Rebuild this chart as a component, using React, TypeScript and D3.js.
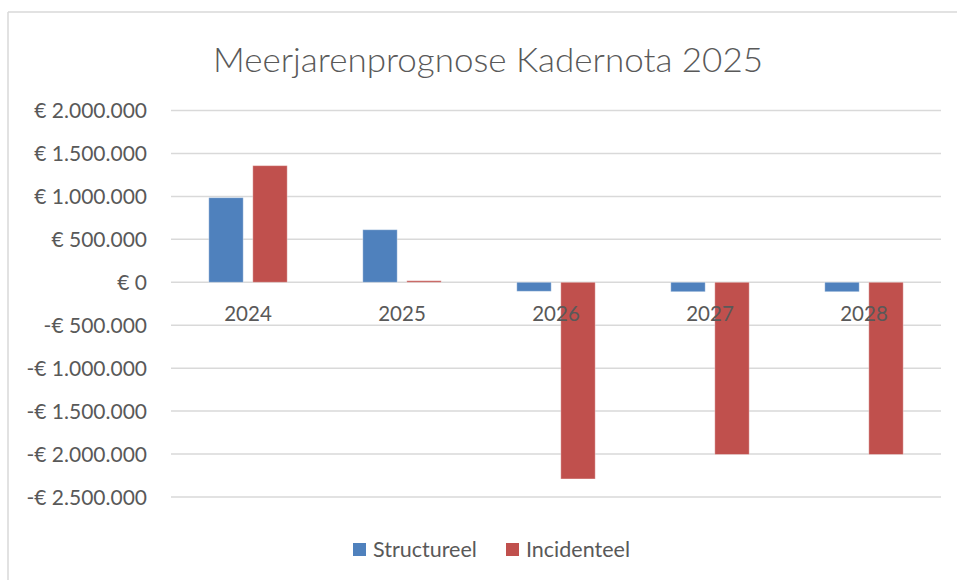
import React from "react";
import * as d3 from "d3";

const categories = ["2024", "2025", "2026", "2027", "2028"];
const seriesNames = ["Structureel", "Incidenteel"];
const structureel = [985000, 612000, -105000, -110000, -110000];
const incidenteel = [1358000, 18000, -2290000, -2005000, -2005000];
const yTicks = [2000000, 1500000, 1000000, 500000, 0, -500000, -1000000, -1500000, -2000000, -2500000];
const colors = ["#4F81BD", "#C0504D"];

const W = 957;
const H = 580;
const FONT = "Lato, 'Open Sans', sans-serif";
const TXT = "#595959";

function fmt(v: number) {
  const abs = Math.abs(v);
  const s = abs.toString().replace(/\B(?=(\d{3})+(?!\d))/g, ".");
  return (v < 0 ? "-€ " : "€ ") + s;
}

export default function App() {
  const y = d3.scaleLinear().domain([-2500000, 2000000]).range([497, 110.5]);
  const x0 = d3.scaleBand().domain(categories).range([171, 941]).padding(0);
  const x1 = d3
    .scaleBand()
    .domain(seriesNames)
    .range([0, x0.bandwidth()])
    .paddingInner(0.218)
    .paddingOuter(0.859);
  const data = [structureel, incidenteel];

  return (
    <div style={{ position: "absolute", left: 0, top: 0 }}>
      <svg width={W} height={H} style={{ display: "block", background: "#fff" }}>
        {/* chart border */}
        <line x1={8} y1={12} x2={W} y2={12} stroke="#D9D9D9" strokeWidth={1.5} />
        <line x1={8} y1={12} x2={8} y2={H} stroke="#D9D9D9" strokeWidth={1.5} />

        <text
          x={488}
          y={72}
          textAnchor="middle"
          fontFamily={FONT}
          fontSize={34}
          fontWeight={300}
          fill={TXT}
          textLength={550}
          lengthAdjust="spacingAndGlyphs"
        >
          Meerjarenprognose Kadernota 2025
        </text>

        {yTicks.map((t) => (
          <g key={t}>
            <line x1={171} x2={941} y1={y(t)} y2={y(t)} stroke="#D9D9D9" strokeWidth={1.5} />
            <text
              x={147}
              y={y(t)}
              dy="0.36em"
              textAnchor="end"
              fontFamily={FONT}
              fontSize={21}
              fill={TXT}
            >
              {fmt(t)}
            </text>
          </g>
        ))}

        {categories.map((c, i) => (
          <g key={c}>
            {data.map((vals, s) => {
              const v = vals[i];
              const top = y(Math.max(0, v));
              const h = Math.abs(y(v) - y(0));
              return (
                <rect
                  key={s}
                  x={(x0(c) as number) + (x1(seriesNames[s]) as number)}
                  y={top}
                  width={x1.bandwidth()}
                  height={Math.max(h, 1)}
                  fill={colors[s]}
                  stroke="#ffffff"
                  strokeOpacity={0.35}
                  strokeWidth={1}
                />
              );
            })}
          </g>
        ))}

        {categories.map((c) => (
          <text
            key={c}
            x={(x0(c) as number) + x0.bandwidth() / 2}
            y={321}
            textAnchor="middle"
            fontFamily={FONT}
            fontSize={20.5}
            fill={TXT}
          >
            {c}
          </text>
        ))}

        {/* legend */}
        {seriesNames.map((s, i) => {
          const lx = [353, 506][i];
          return (
            <g key={s}>
              <rect x={lx} y={543} width={13} height={13} fill={colors[i]} />
              <text x={lx + 20} y={557} fontFamily={FONT} fontSize={21.5} fill={TXT}>
                {s}
              </text>
            </g>
          );
        })}
      </svg>
    </div>
  );
}
